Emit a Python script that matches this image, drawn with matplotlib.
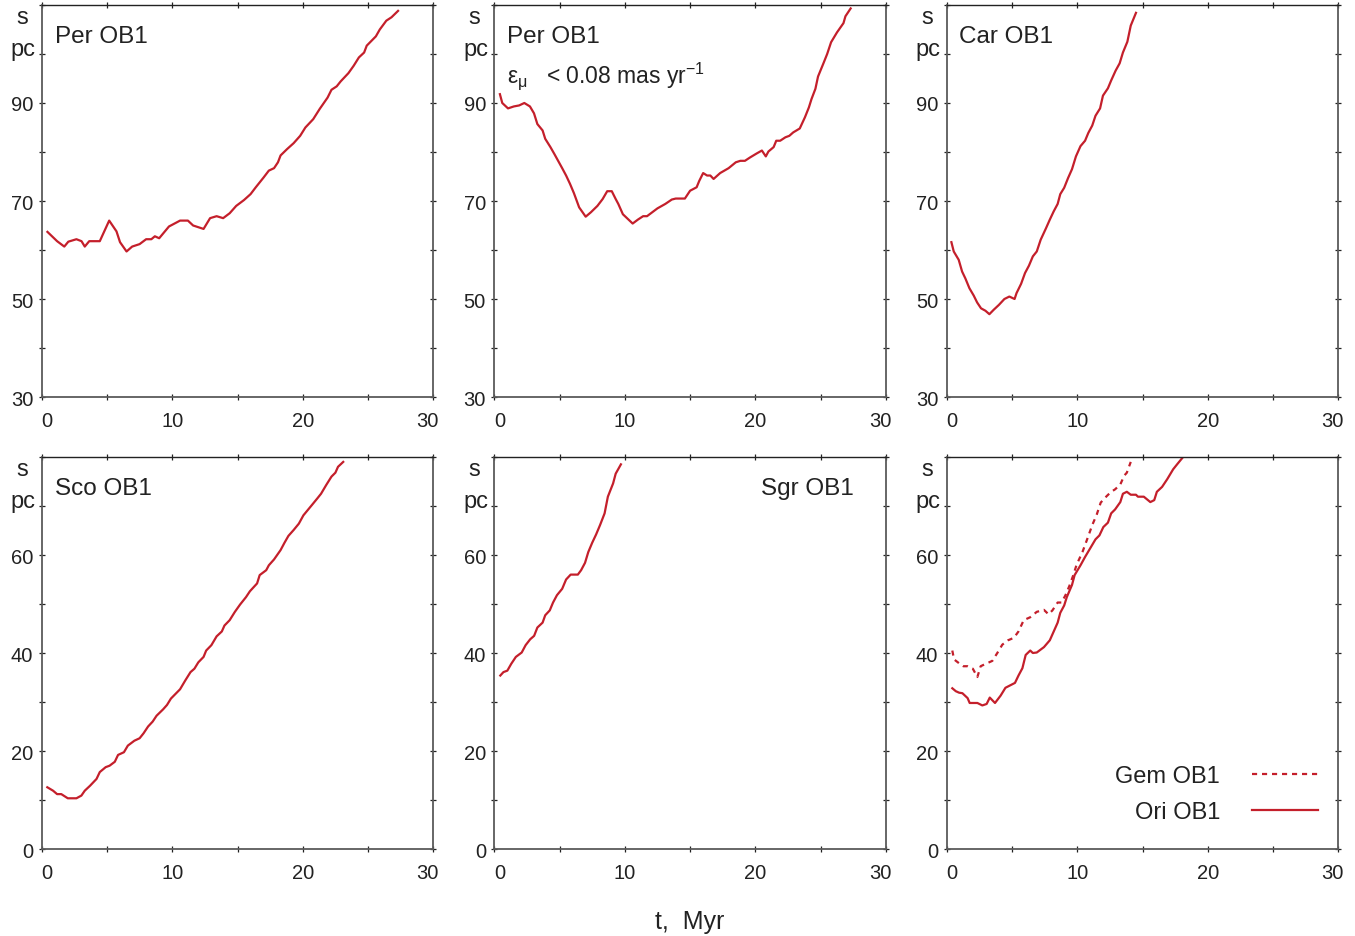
import matplotlib
matplotlib.use("Agg")
import matplotlib.pyplot as plt
from matplotlib.transforms import ScaledTranslation

plt.rcParams['font.family'] = ['Liberation Sans', 'DejaVu Sans']
plt.rcParams['mathtext.fontset'] = 'custom'
plt.rcParams['mathtext.rm'] = 'Liberation Sans'
plt.rcParams['mathtext.it'] = 'Liberation Sans'

RED = '#c41f2b'

# Per OB1 (all stars)
t_per = [0.44, 1.18, 1.73, 2.04, 2.66, 3.05, 3.3, 3.64, 4.45, 5.17, 5.73, 6.0, 6.5, 6.93,
         7.5, 8.0, 8.4, 8.67, 9.0, 9.75, 10.6, 11.2, 11.6, 12.4, 12.9, 13.4, 13.9, 14.4,
         14.9, 15.5, 16.0, 16.4, 17.0, 17.4, 17.8, 18.1, 18.3, 18.8, 19.3, 19.8, 20.2,
         20.8, 21.3, 21.9, 22.2, 22.6, 22.9, 23.5, 23.9, 24.3, 24.7, 24.9, 25.6, 25.9,
         26.4, 26.8, 27.3]
s_per = [63.7, 61.8, 60.7, 61.7, 62.2, 61.8, 60.7, 61.8, 61.8, 66.0, 63.8, 61.6, 59.7, 60.7,
         61.2, 62.2, 62.2, 62.8, 62.4, 64.8, 66.0, 66.0, 65.0, 64.3, 66.5, 66.9, 66.5, 67.5,
         69.0, 70.2, 71.4, 72.8, 74.8, 76.2, 76.7, 77.9, 79.3, 80.6, 81.8, 83.3, 85.0,
         86.7, 88.8, 91.1, 92.7, 93.4, 94.4, 96.1, 97.6, 99.3, 100.3, 101.7, 103.6, 105.0,
         106.8, 107.5, 108.8]

# Per OB1, eps_mu < 0.08 mas/yr
t_per2 = [0.43, 0.61, 1.05, 1.5, 1.9, 2.3, 2.73, 3.04, 3.3, 3.7, 3.9, 4.3, 4.6, 5.2, 5.5,
          5.8, 6.1, 6.5, 7.0, 7.4, 7.9, 8.3, 8.65, 9.0, 9.3, 9.5, 9.85, 10.6, 11.0, 11.4,
          11.7, 12.0, 12.5, 13.1, 13.6, 13.9, 14.6, 15.0, 15.5, 15.7, 16.0, 16.3, 16.55,
          16.8, 17.3, 17.95, 18.5, 18.85, 19.2, 19.6, 20.1, 20.5, 20.8, 21.0, 21.4, 21.6,
          21.9, 22.3, 22.6, 22.9, 23.4, 23.8, 24.1, 24.3, 24.6, 24.8, 25.2, 25.5, 25.8,
          26.25, 26.75, 26.9, 27.3]
s_per2 = [91.8, 90.0, 88.9, 89.3, 89.5, 90.0, 89.3, 87.9, 85.7, 84.4, 82.7, 81.0, 79.6, 76.7,
          75.2, 73.5, 71.6, 68.7, 66.8, 67.7, 69.0, 70.4, 72.0, 72.0, 70.4, 69.4, 67.3, 65.4,
          66.2, 66.9, 66.9, 67.5, 68.5, 69.4, 70.3, 70.5, 70.5, 72.1, 72.8, 74.1, 75.7, 75.2,
          75.2, 74.5, 75.7, 76.7, 77.9, 78.2, 78.2, 78.9, 79.7, 80.3, 79.1, 80.1, 81.0, 82.3,
          82.3, 83.0, 83.3, 84.0, 84.8, 87.1, 89.1, 90.8, 92.9, 95.4, 98.0, 100.0, 102.4,
          104.4, 106.3, 107.7, 109.3]

# Car OB1
t_car = [0.36, 0.54, 0.92, 1.18, 1.43, 1.74, 2.07, 2.33, 2.63, 2.97, 3.27, 3.6, 4.0, 4.42,
         4.8, 5.2, 5.35, 5.7, 6.0, 6.3, 6.6, 6.9, 7.2, 7.6, 7.9, 8.2, 8.5, 8.7, 9.0, 9.3,
         9.6, 9.9, 10.25, 10.6, 10.85, 11.15, 11.4, 11.75, 11.97, 12.35, 12.6, 12.94,
         13.25, 13.5, 13.84, 14.1, 14.5]
s_car = [61.6, 59.7, 58.0, 55.6, 54.2, 52.2, 50.7, 49.3, 48.1, 47.6, 46.9, 47.8, 48.8, 50.0,
         50.5, 50.0, 51.2, 53.1, 55.3, 56.8, 58.7, 59.7, 62.1, 64.4, 66.2, 67.9, 69.4, 71.4,
         72.7, 74.7, 76.5, 79.1, 81.2, 82.3, 83.9, 85.4, 87.4, 88.9, 91.5, 93.0, 94.6, 96.6,
         98.1, 100.3, 102.5, 105.8, 108.4]

# Sco OB1
t_sco = [0.43, 0.87, 1.18, 1.5, 2.0, 2.66, 3.04, 3.3, 3.7, 4.2, 4.45, 4.9, 5.2, 5.6, 5.85,
         6.3, 6.6, 7.1, 7.5, 7.8, 8.15, 8.5, 8.8, 9.3, 9.6, 9.9, 10.6, 11.0, 11.4, 11.7,
         12.0, 12.4, 12.6, 13.0, 13.4, 13.8, 14.0, 14.4, 14.8, 15.2, 15.65, 15.95, 16.5,
         16.7, 17.2, 17.4, 17.8, 18.3, 18.6, 18.9, 19.3, 19.7, 20.05, 20.7, 21.1, 21.4,
         21.8, 22.2, 22.5, 22.7, 23.1]
s_sco = [12.6, 11.9, 11.2, 11.2, 10.35, 10.35, 10.9, 11.9, 12.9, 14.3, 15.7, 16.7, 17.0,
         17.8, 19.2, 19.75, 21.1, 22.1, 22.6, 23.6, 25.0, 26.0, 27.2, 28.5, 29.4, 30.7,
         32.6, 34.4, 36.1, 36.8, 38.1, 39.2, 40.5, 41.6, 43.4, 44.4, 45.6, 46.7, 48.4,
         49.9, 51.4, 52.6, 54.2, 55.9, 56.9, 57.9, 59.1, 61.0, 62.5, 63.9, 65.1, 66.4,
         68.1, 70.2, 71.5, 72.5, 74.3, 76.0, 76.8, 78.0, 79.0]

# Sgr OB1
t_sgr = [0.46, 0.7, 1.0, 1.3, 1.65, 2.1, 2.4, 2.75, 3.05, 3.3, 3.7, 3.9, 4.25, 4.5, 4.8,
         5.2, 5.5, 5.85, 6.4, 6.65, 6.95, 7.2, 7.5, 7.8, 8.1, 8.45, 8.7, 9.1, 9.3, 9.7]
s_sgr = [35.4, 36.1, 36.4, 37.8, 39.2, 40.1, 41.6, 42.8, 43.5, 45.2, 46.2, 47.7, 48.7, 50.3,
         51.8, 53.1, 55.0, 56.0, 56.0, 56.9, 58.4, 60.6, 62.5, 64.2, 66.1, 68.5, 71.9, 74.6,
         76.6, 78.5]

# Ori OB1
t_ori = [0.43, 0.7, 0.95, 1.2, 1.6, 1.76, 2.35, 2.73, 3.06, 3.3, 3.7, 4.13, 4.5, 5.23, 5.5,
         5.8, 6.05, 6.4, 6.6, 6.9, 7.45, 7.9, 8.3, 8.5, 8.7, 9.0, 9.2, 9.6, 9.8, 10.25,
         10.6, 11.0, 11.4, 11.7, 12.0, 12.35, 12.6, 12.9, 13.3, 13.5, 13.8, 14.1, 14.5,
         14.65, 15.1, 15.6, 15.9, 16.1, 16.5, 16.9, 17.35, 17.65, 18.05]
s_ori = [32.8, 32.2, 31.9, 31.8, 30.8, 29.8, 29.8, 29.3, 29.6, 30.9, 29.8, 31.3, 32.9, 33.9,
         35.4, 36.9, 39.6, 40.5, 40.0, 40.1, 41.2, 42.6, 45.0, 46.2, 48.2, 49.7, 51.4, 53.9,
         55.9, 57.9, 59.6, 61.4, 63.2, 64.0, 65.7, 66.6, 68.5, 69.3, 70.8, 72.5, 72.9, 72.3,
         72.3, 71.9, 71.9, 70.8, 71.2, 72.9, 73.9, 75.5, 77.5, 78.5, 79.8]

# Gem OB1
t_gem = [0.43, 0.56, 0.95, 1.28, 1.6, 2.0, 2.35, 2.6, 3.0, 3.5, 3.9, 4.26, 4.7, 5.15, 5.5,
         5.9, 6.4, 6.9, 7.45, 7.8, 8.1, 8.5, 8.8, 9.1, 9.4, 9.7, 9.95, 10.4, 10.8, 11.15,
         11.5, 11.8, 12.25, 12.6, 12.9, 13.3, 13.6, 13.8, 14.1]
s_gem = [40.5, 38.7, 37.9, 37.3, 37.3, 36.8, 35.1, 37.3, 37.8, 38.4, 40.1, 41.7, 42.6, 43.1,
         44.4, 46.7, 47.3, 48.4, 48.8, 47.9, 48.7, 50.3, 50.3, 51.8, 53.7, 55.9, 58.0, 60.6,
         63.5, 66.1, 68.3, 70.7, 72.0, 72.9, 73.4, 74.4, 76.2, 76.8, 79.0]

x_ticks = [0, 5, 10, 15, 20, 25, 30]
x_labels = ['0', '', '10', '', '20', '', '30']
y_top_ticks = [30, 40, 50, 60, 70, 80, 90, 100, 110]
y_top_labels = ['30', '', '50', '', '70', '', '90', '', '']
y_bot_ticks = [0, 10, 20, 30, 40, 50, 60, 70, 80]
y_bot_labels = ['0', '', '20', '', '40', '', '60', '', '']

W, H = 1355, 937
fig = plt.figure(figsize=(W / 100, H / 100), dpi=100)

lefts = [41.7, 494.3, 946.7]
tops = [6, 458]
aw, ah = 391.6, 392

axes = []
for r in range(2):
    for c in range(3):
        ax = fig.add_axes([lefts[c] / W, 1 - (tops[r] + ah) / H, aw / W, ah / H])
        axes.append(ax)


def style(ax, yticks, ylabels):
    ax.set_xlim(0, 30)
    ax.set_ylim(yticks[0], yticks[-1])
    ax.set_xticks(x_ticks)
    ax.set_xticklabels(x_labels)
    ax.set_yticks(yticks)
    ax.set_yticklabels(ylabels)
    for sp in ax.spines.values():
        sp.set_color('#5a5a5a')
        sp.set_linewidth(1.3)
    ax.spines['top'].set_color('#222222')
    ax.spines['top'].set_linewidth(1.0)
    ax.tick_params(direction='inout', length=5, width=0.9, color='#222222',
                   top=True, right=True, labelsize=14.5, labelcolor='#222222')
    ax.tick_params(axis='x', pad=7.5)
    ax.tick_params(axis='y', pad=3.5)
    # nudge the end labels inward like the original
    xl = ax.get_xticklabels()
    xl[0].set_transform(xl[0].get_transform() + ScaledTranslation(0.055, 0, fig.dpi_scale_trans))
    xl[-1].set_transform(xl[-1].get_transform() + ScaledTranslation(-0.06, 0, fig.dpi_scale_trans))
    ax.text(-0.05, 0.969, 's', transform=ax.transAxes, ha='center', va='center',
            fontsize=17, color='#222222')
    ax.text(-0.047, 0.888, 'pc', transform=ax.transAxes, ha='center', va='center',
            fontsize=17, color='#222222')


for i, ax in enumerate(axes):
    if i < 3:
        style(ax, y_top_ticks, y_top_labels)
    else:
        style(ax, y_bot_ticks, y_bot_labels)

lw = 1.6
axes[0].plot(t_per, s_per, color=RED, lw=lw)
axes[1].plot(t_per2, s_per2, color=RED, lw=lw)
axes[2].plot(t_car, s_car, color=RED, lw=lw)
axes[3].plot(t_sco, s_sco, color=RED, lw=lw)
axes[4].plot(t_sgr, s_sgr, color=RED, lw=lw)
axes[5].plot(t_gem, s_gem, color=RED, lw=lw, linestyle=(0, (2.3, 2.2)), label='Gem OB1')
axes[5].plot(t_ori, s_ori, color=RED, lw=lw, label='Ori OB1')

tkw = dict(fontsize=17.5, color='#222222', va='center')
axes[0].text(0.034, 0.921, 'Per OB1', transform=axes[0].transAxes, ha='left', **tkw)
axes[1].text(0.033, 0.921, 'Per OB1', transform=axes[1].transAxes, ha='left', **tkw)
axes[1].text(0.032, 0.822, r'$\varepsilon_{\mu}$   < 0.08 mas yr$^{\mathregular{-1}}$',
             transform=axes[1].transAxes, ha='left', fontsize=16.5, color='#222222', va='center')
axes[2].text(0.032, 0.921, 'Car OB1', transform=axes[2].transAxes, ha='left', **tkw)
axes[3].text(0.034, 0.921, 'Sco OB1', transform=axes[3].transAxes, ha='left', **tkw)
axes[4].text(0.919, 0.921, 'Sgr OB1', transform=axes[4].transAxes, ha='right', **tkw)

axes[5].legend(loc='lower right', bbox_to_anchor=(1.003, 0.0115), frameon=False,
               markerfirst=False, fontsize=17, handlelength=2.8, labelspacing=0.6,
               handletextpad=1.36, labelcolor='#222222')

fig.text(690 / W, 1 - 921.7 / H, 't,  Myr', ha='center', va='center', fontsize=18,
         color='#222222')

fig.savefig('out.png', dpi=100)
